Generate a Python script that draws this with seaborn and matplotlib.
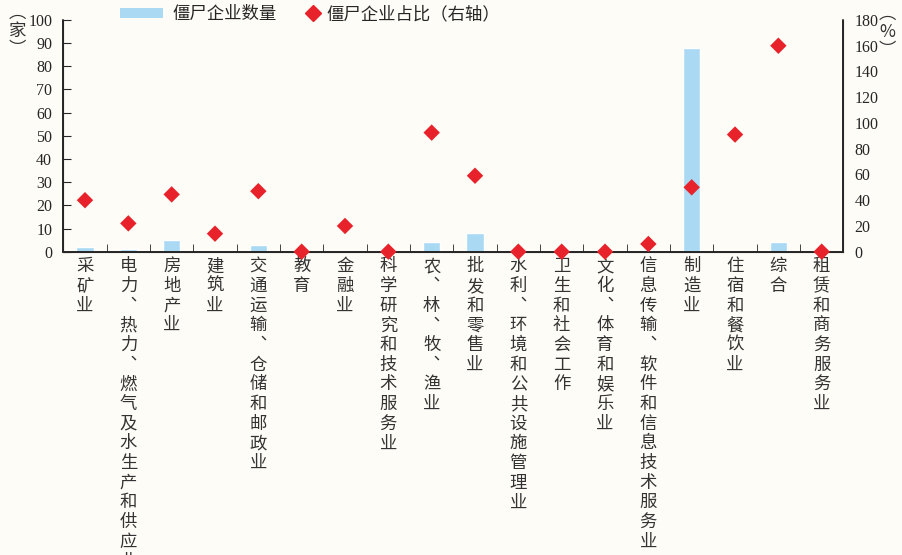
import numpy as np
import pandas as pd
import matplotlib
matplotlib.use("Agg")
import matplotlib.pyplot as plt
import seaborn as sns
from matplotlib.patches import Patch
from matplotlib.lines import Line2D

industries = ["采矿业", "电力、热力、燃气及水生产和供应业", "房地产业", "建筑业",
              "交通运输、仓储和邮政业", "教育", "金融业", "科学研究和技术服务业",
              "农、林、牧、渔业", "批发和零售业", "水利、环境和公共设施管理业",
              "卫生和社会工作", "文化、体育和娱乐业", "信息传输、软件和信息技术服务业",
              "制造业", "住宿和餐饮业", "综合", "租赁和商务服务业"]
zombie_count = [2, 1, 5, 0, 3, 0, 0, 0, 4, 8, 0, 0, 0, 0, 88, 0, 4, 0]
zombie_share = [40, 22, 44.5, 14, 47, 0, 20, 0, 92.5, 59, 0, 0, 0, 6, 50, 91, 160, 0]

left_ticks = list(range(0, 101, 10))
right_ticks = list(range(0, 181, 20))

bar_color = "#a9d9f3"
dot_color = "#e8222b"
bg = "#fdfcf6"
ink = "#262626"

df = pd.DataFrame({"industry": industries, "count": zombie_count, "share": zombie_share})

sns.set_style("ticks")
plt.rcParams["font.family"] = ["Noto Sans CJK SC", "DejaVu Sans"]

fig = plt.figure(figsize=(9.02, 5.55), dpi=100, facecolor=bg)
ax = fig.add_axes([0.0702, 0.5465, 0.8648, 0.4175])
ax.set_facecolor(bg)

sns.barplot(data=df, x="industry", y="count", color=bar_color, saturation=1,
            width=0.4, ax=ax)
ax.set_ylim(0, 100)
ax.set_yticks(left_ticks)
ax.set_xlabel("")
ax.set_ylabel("")

ax2 = ax.twinx()
sns.scatterplot(data=df, x="industry", y="share", marker="D", s=70, color=dot_color,
                edgecolor="none", ax=ax2, clip_on=False, zorder=5)
ax2.set_ylim(0, 180)
ax2.set_yticks(right_ticks)
ax2.set_ylabel("")
ax.set_xlim(-0.5, len(industries) - 0.5)

sns.despine(ax=ax, top=True, right=True)
sns.despine(ax=ax2, top=True, left=True, bottom=True, right=False)

# axis lines drawn as plain lines as well, on top of the bars
ax.axvline(-0.5, color=ink, lw=1.4, clip_on=False, zorder=4)
ax.axhline(0, color=ink, lw=1.4, clip_on=False, zorder=4)
ax2.axvline(len(industries) - 0.5, color=ink, lw=1.4, clip_on=False, zorder=4)

ax.tick_params(axis="y", direction="in", length=6, pad=8, labelsize=11.5)
ax2.tick_params(axis="y", direction="in", length=6, pad=8, labelsize=11.5)
for lab in ax.get_yticklabels() + ax2.get_yticklabels():
    lab.set_fontfamily("Liberation Serif")

# vertical category labels, one character per line
vert = ["\n".join(name.replace("、", "︑")) for name in industries]
ax.set_xticks(range(len(industries)))
ax.set_xticklabels(vert, rotation=0, fontsize=12.5, linespacing=1.12,
                   color="#333333")
ax.set_xticks(np.arange(-0.5, len(industries), 1), minor=True)
ax.tick_params(axis="x", which="major", length=0, pad=4)
ax.tick_params(axis="x", which="minor", direction="in", length=6)

# units
fig.text(0.019, 1 - 31 / 555, "︵\n家\n︶", ha="center", va="center",
         fontsize=12.5, linespacing=1.0, color="#333333")
fig.text(0.984, 1 - 32 / 555, "︵\n%\n︶", ha="center", va="center",
         fontsize=12.5, linespacing=1.0, color="#333333")

# legend, two pieces so each handle gets its own length
fig.legend(handles=[Patch(facecolor=bar_color, edgecolor="none")],
           labels=["僵尸企业数量"], loc="center left",
           bbox_to_anchor=(120 / 902, 1 - 14 / 555), frameon=False,
           fontsize=12.5, handlelength=2.5, handleheight=0.5,
           handletextpad=0.5, borderpad=0, borderaxespad=0)
fig.legend(handles=[Line2D([], [], marker="D", color=dot_color, linestyle="none",
                           markersize=8)],
           labels=["僵尸企业占比（右轴）"], loc="center left",
           bbox_to_anchor=(304 / 902, 1 - 14 / 555), frameon=False,
           fontsize=12.5, handlelength=1.0, handletextpad=0.3,
           borderpad=0, borderaxespad=0)

plt.savefig("out.png", dpi=100, facecolor=bg)
